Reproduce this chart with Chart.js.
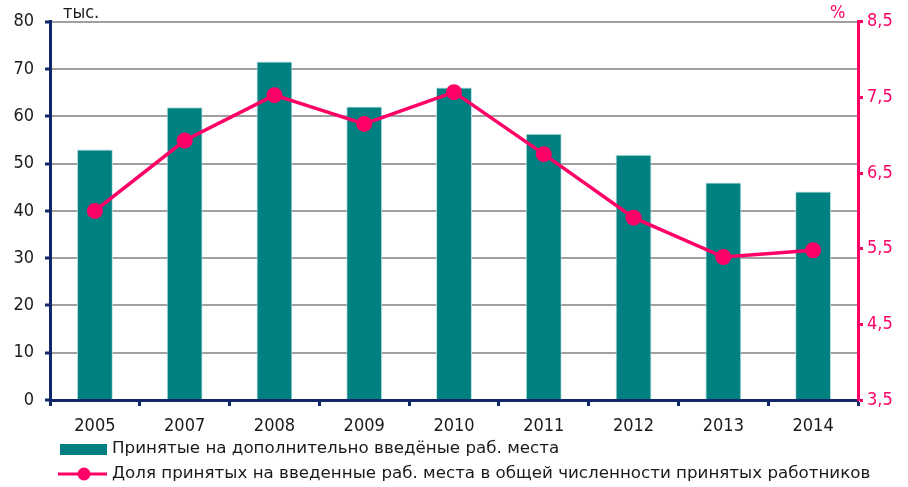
<!DOCTYPE html>
<html>
<head>
<meta charset="utf-8">
<script src="https://cdn.jsdelivr.net/npm/chart.js@4.4.1/dist/chart.umd.min.js"></script>
<style>
  html, body { margin: 0; padding: 0; background: #fff; }
  #wrap { width: 908px; height: 487px; }
</style>
</head>
<body>
<div id="wrap"><canvas id="chart"></canvas></div>
<script>
// Data
const years = ["2005", "2007", "2008", "2009", "2010", "2011", "2012", "2013", "2014"];
const hired = [53.0, 61.9, 71.6, 62.1, 66.1, 56.3, 51.9, 46.0, 44.1];
const share = [6.0, 6.93, 7.53, 7.15, 7.57, 6.75, 5.91, 5.39, 5.48];
const leftTicks = [0, 10, 20, 30, 40, 50, 60, 70, 80];
const rightTicks = [3.5, 4.5, 5.5, 6.5, 7.5, 8.5];

const hiredLabel = "Принятые на дополнительно введёные раб. места";
const shareLabel = "Доля принятых на введенные раб. места в общей численности принятых работников";

const TEAL = '#008080';
const PINK = '#ff0066';
const NAVY = '#10276a';
const GRID = '#a0a0a0';
const FONT = "'DejaVu Sans Condensed', 'DejaVu Sans', sans-serif";
const LEGEND_FONT = "'DejaVu Sans', sans-serif";

Chart.defaults.font.family = FONT;
Chart.defaults.font.size = 18;
Chart.defaults.color = '#1a1a1a';

// legend and unit labels drawn by hand
const extras = {
    id: 'extras',
    afterDraw(chart) {
        const ctx = chart.ctx;
        ctx.save();
        ctx.textBaseline = 'middle';
        ctx.textAlign = 'left';

        ctx.font = '18px ' + FONT;
        ctx.fillStyle = '#1a1a1a';
        ctx.fillText('тыс.', 63, 13);
        ctx.fillStyle = PINK;
        ctx.fillText('%', 830, 13);

        ctx.font = '16.7px ' + LEGEND_FONT;
        // legend row 1: bar
        ctx.fillStyle = TEAL;
        ctx.fillRect(60, 444, 47, 11);
        ctx.fillStyle = '#1a1a1a';
        ctx.fillText(chart.data.datasets[1].label, 112, 449);

        // legend row 2: line with marker
        ctx.strokeStyle = PINK;
        ctx.lineWidth = 3;
        ctx.beginPath();
        ctx.moveTo(58, 474);
        ctx.lineTo(107, 474);
        ctx.stroke();
        ctx.fillStyle = PINK;
        ctx.beginPath();
        ctx.arc(84, 474, 6.5, 0, Math.PI * 2);
        ctx.fill();
        ctx.fillStyle = '#1a1a1a';
        ctx.fillText(chart.data.datasets[0].label, 112, 474);
        ctx.restore();
    }
};

new Chart(document.getElementById('chart'), {
    type: 'bar',
    data: {
        labels: years,
        datasets: [{
            type: 'line',
            label: shareLabel,
            data: share,
            yAxisID: 'y1',
            borderColor: PINK,
            backgroundColor: PINK,
            borderWidth: 3.5,
            pointRadius: 8,
            pointBackgroundColor: PINK,
            pointBorderWidth: 0,
            tension: 0,
            order: 0
        }, {
            type: 'bar',
            label: hiredLabel,
            data: hired,
            yAxisID: 'y',
            backgroundColor: TEAL,
            borderColor: '#b8e0e0',
            borderWidth: 1,
            categoryPercentage: 1,
            barPercentage: 0.4,
            order: 1
        }]
    },
    options: {
        responsive: true,
        maintainAspectRatio: false,
        animation: false,
        layout: { padding: { top: 20, left: 0, right: 0, bottom: 0 } },
        plugins: {
            legend: { display: false },
            tooltip: { enabled: false }
        },
        scales: {
            x: {
                grid: { offset: true, drawOnChartArea: false, drawTicks: true, tickLength: 6, tickColor: NAVY, tickWidth: 3 },
                border: { display: true, color: NAVY, width: 3 },
                ticks: { padding: 10 },
                afterFit(scale) { scale.height = 87; }
            },
            y: {
                position: 'left',
                min: 0,
                max: 80,
                afterBuildTicks(scale) { scale.ticks = leftTicks.map(v => ({ value: v })); },
                grid: { color: GRID, lineWidth: 2, tickColor: NAVY, tickLength: 5, tickWidth: 3 },
                border: { display: true, color: NAVY, width: 3 },
                ticks: { padding: 11 },
                afterFit(scale) { scale.width = 50; }
            },
            y1: {
                position: 'right',
                min: 3.5,
                max: 8.5,
                afterBuildTicks(scale) { scale.ticks = rightTicks.map(v => ({ value: v })); },
                grid: { drawOnChartArea: false, tickColor: PINK, tickLength: 5, tickWidth: 3 },
                border: { display: true, color: PINK, width: 3 },
                ticks: {
                    color: PINK,
                    padding: 4,
                    callback: v => v.toFixed(1).replace('.', ',')
                },
                afterFit(scale) { scale.width = 50; }
            }
        }
    },
    plugins: [extras]
});
</script>
</body>
</html>
